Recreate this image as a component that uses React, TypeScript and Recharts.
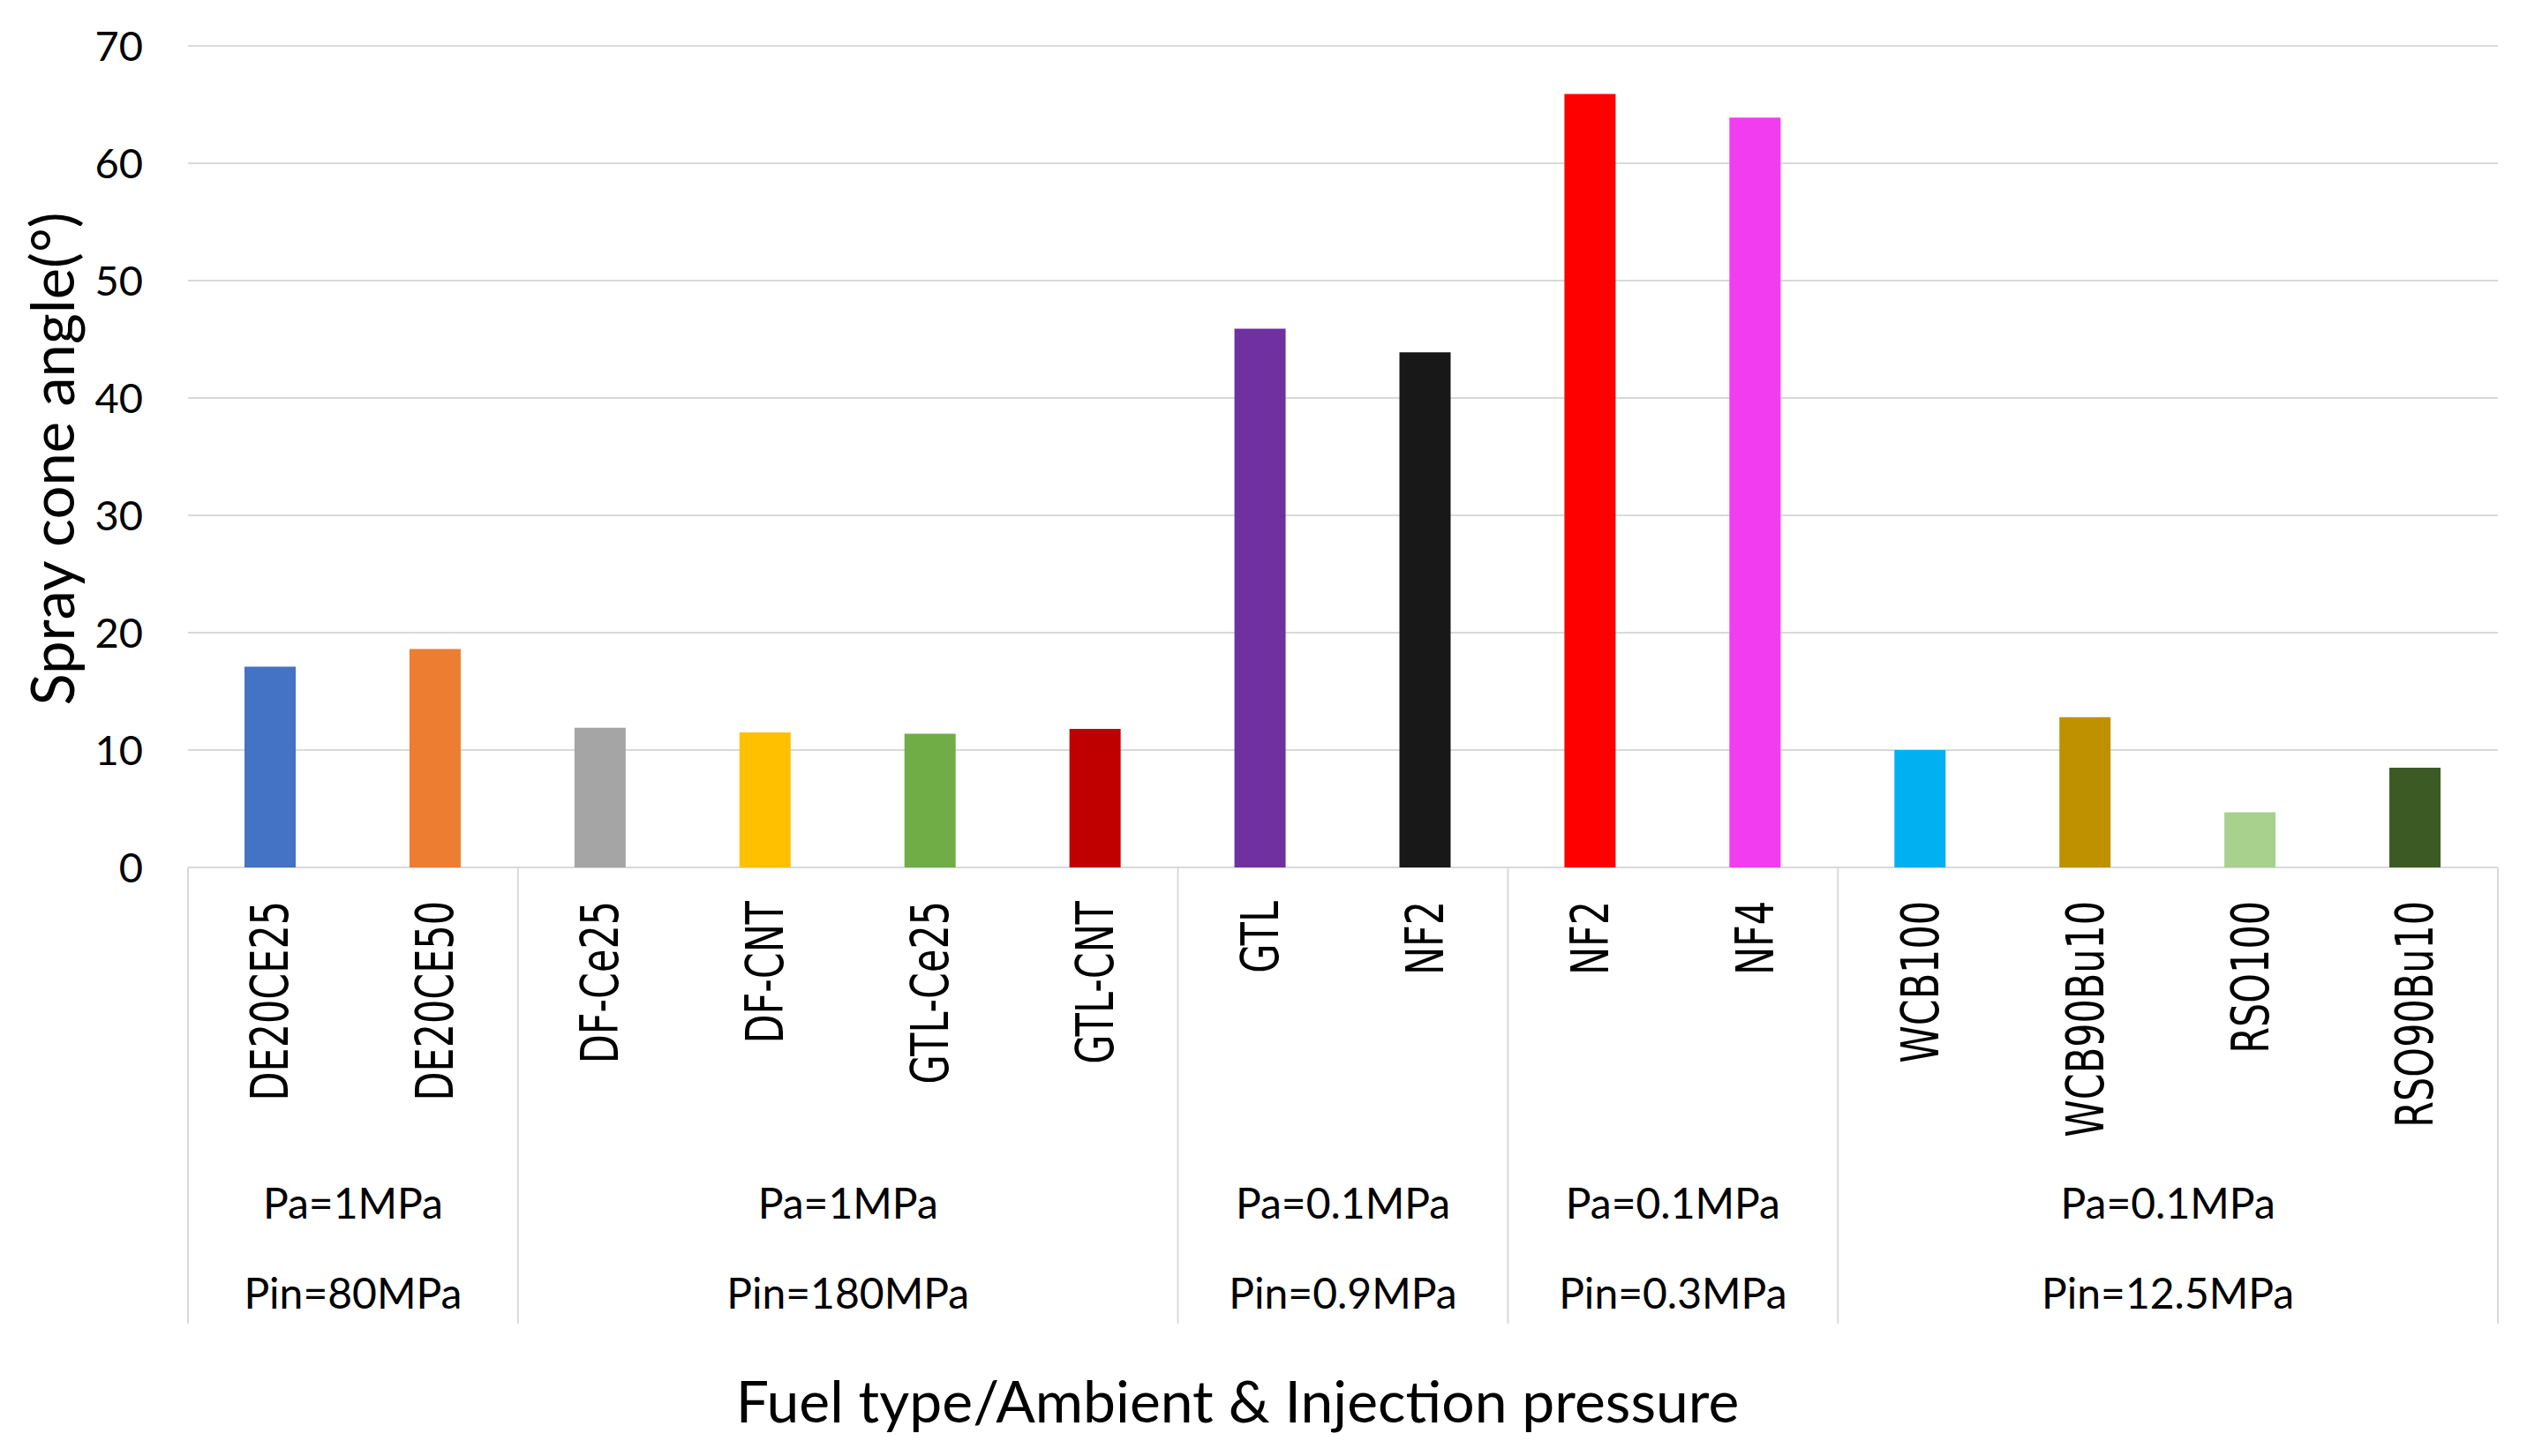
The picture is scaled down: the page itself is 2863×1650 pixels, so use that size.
import React from "react";
import { Bar, BarChart, CartesianGrid, Cell, XAxis, YAxis } from "recharts";

const fuels = [
	"DE20CE25",
	"DE20CE50",
	"DF-Ce25",
	"DF-CNT",
	"GTL-Ce25",
	"GTL-CNT",
	"GTL",
	"NF2",
	"NF2",
	"NF4",
	"WCB100",
	"WCB90Bu10",
	"RSO100",
	"RSO90Bu10",
];

const angles = [17.1, 18.6, 11.9, 11.5, 11.4, 11.8, 45.9, 43.9, 65.9, 63.9, 10.0, 12.8, 4.7, 8.5];

const barColors = [
	"#4472C4",
	"#ED7D31",
	"#A5A5A5",
	"#FFC000",
	"#70AD47",
	"#C00000",
	"#7030A0",
	"#181818",
	"#FF0000",
	"#F23CF0",
	"#00B0F0",
	"#BF9000",
	"#A9D18E",
	"#3B5A24",
];

const groupSizes = [2, 4, 2, 2, 4];
const groupPa = ["Pa=1MPa", "Pa=1MPa", "Pa=0.1MPa", "Pa=0.1MPa", "Pa=0.1MPa"];
const groupPin = ["Pin=80MPa", "Pin=180MPa", "Pin=0.9MPa", "Pin=0.3MPa", "Pin=12.5MPa"];

const yTicks = [0, 10, 20, 30, 40, 50, 60, 70];

const data = fuels.map((_, i) => ({ id: i, angle: angles[i] }));

// layout
const W = 2847;
const H = 1630;
const M = { top: 44, right: 25, left: 100, bottom: 0 };
const Y_AXIS_W = 105;
const PLOT_LEFT = M.left + Y_AXIS_W;
const PLOT_RIGHT = W - M.right;
const BAND = (PLOT_RIGHT - PLOT_LEFT) / fuels.length;

const CALIBRI = "Lato, 'Open Sans', sans-serif";
const GRID = "#d9d9d9";

// group start index -> group number
const groupStarts: Record<number, number> = {};
{
	let s = 0;
	groupSizes.forEach((n, g) => {
		groupStarts[s] = g;
		s += n;
	});
}

function FuelTick(props: any) {
	const { x, y, payload } = props;
	const i = payload.value as number;
	const g = groupStarts[i];
	const left = x - BAND / 2;
	return (
		<g>
			<text
				transform={`translate(${x},${y + 38}) rotate(-90) scale(0.74,1)`}
				textAnchor="end"
				dominantBaseline="central"
				fontFamily="'DejaVu Sans', Verdana, sans-serif"
				fontSize={58}
				fill="#000"
			>
				{fuels[i]}
			</text>
			{g !== undefined && (
				<g>
					<line x1={left} x2={left} y1={y} y2={y + 517} stroke={GRID} strokeWidth={2} />
					<text
						x={left + (groupSizes[g] * BAND) / 2}
						y={y + 398}
						textAnchor="middle"
						fontFamily={CALIBRI}
						fontSize={48}
						fill="#000"
					>
						{groupPa[g]}
					</text>
					<text
						x={left + (groupSizes[g] * BAND) / 2}
						y={y + 500}
						textAnchor="middle"
						fontFamily={CALIBRI}
						fontSize={48}
						fill="#000"
					>
						{groupPin[g]}
					</text>
				</g>
			)}
			{i === fuels.length - 1 && (
				<line x1={x + BAND / 2} x2={x + BAND / 2} y1={y} y2={y + 517} stroke={GRID} strokeWidth={2} />
			)}
		</g>
	);
}

export default function App() {
	return (
		<BarChart width={W} height={H} data={data} margin={M}>
			<CartesianGrid vertical={false} stroke={GRID} strokeWidth={2} />
			<XAxis
				dataKey="id"
				type="category"
				height={H - 975}
				tickLine={false}
				axisLine={false}
				tickSize={0}
				tickMargin={0}
				interval={0}
				tick={<FuelTick />}
			/>
			<YAxis
				width={Y_AXIS_W}
				domain={[0, 70]}
				ticks={yTicks}
				tickLine={false}
				axisLine={false}
				tickSize={0}
				tickMargin={51}
				tick={{ fontFamily: CALIBRI, fontSize: 47, fill: "#000" }}
			/>
			<Bar dataKey="angle" barSize={58} isAnimationActive={false}>
				{data.map((d) => (
					<Cell key={d.id} fill={barColors[d.id]} />
				))}
			</Bar>
			<text
				transform="translate(50,512) rotate(-90)"
				textAnchor="middle"
				dominantBaseline="central"
				fontFamily={CALIBRI}
				fontSize={67}
				fill="#000"
			>
				Spray cone angle(°)
			</text>
			<text x={1394} y={1604} textAnchor="middle" fontFamily={CALIBRI} fontSize={66} fill="#000">
				Fuel type/Ambient &amp; Injection pressure
			</text>
		</BarChart>
	);
}
